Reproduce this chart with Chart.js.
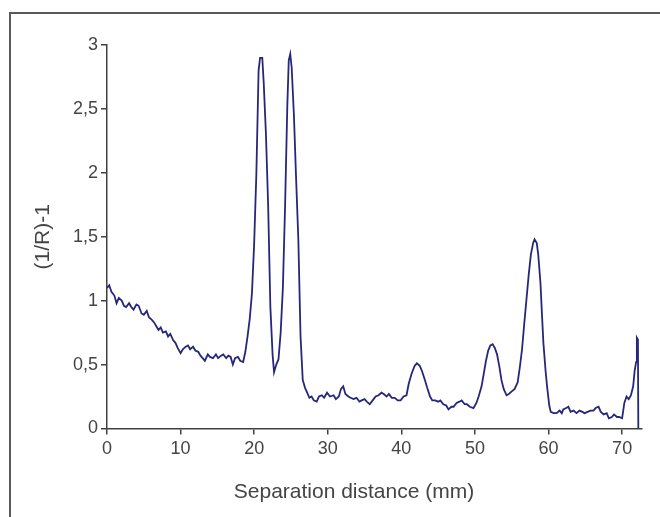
<!DOCTYPE html>
<html>
<head>
<meta charset="utf-8">
<script src="https://cdn.jsdelivr.net/npm/chart.js@4/dist/chart.umd.min.js"></script>
<style>
html, body { margin: 0; padding: 0; background: #fff; overflow: hidden; }
#wrap { position: relative; width: 660px; height: 517px; }
#frame { position: absolute; left: 9px; top: 12px; width: 700px; height: 600px; border: 2px solid #5a5a5a; box-sizing: border-box; }
#chart { position: absolute; left: 0; top: 0; }
</style>
</head>
<body>
<div id="wrap">
<div id="frame"></div>
<canvas id="chart" width="660" height="517"></canvas>
</div>
<script>
// separation distance (mm) and reflectance signal (1/R)-1
var distance = [
0,0.3,0.6,1.0,1.3,1.6,2.0,2.3,2.6,3.0,3.3,3.6,4.0,4.3,4.7,5.0,5.4,5.7,6.1,6.4,
6.7,7.0,7.3,7.6,8.0,8.3,8.6,9.0,9.3,9.6,10.0,10.3,10.7,11.0,11.3,11.7,12.0,12.4,12.7,13.0,
13.3,13.7,14.0,14.4,14.8,15.1,15.5,15.8,16.2,16.5,16.8,17.1,17.4,17.8,18.1,18.5,
18.8,19.1,19.4,19.7,20.0,20.3,20.6,20.8,21.1,21.3,21.6,21.9,22.2,22.5,22.7,23.0,23.3,23.6,23.9,
24.2,24.5,24.7,24.9,25.1,25.4,25.7,26.0,26.3,26.6,26.9,27.2,27.5,27.8,28.1,28.5,28.8,29.2,29.5,29.9,
30.3,30.8,31.1,31.5,31.8,32.1,32.4,32.8,33.1,33.5,33.9,34.3,34.6,35.0,35.3,35.7,36.1,36.5,36.9,37.3,
37.6,38.0,38.3,38.7,39.1,39.5,39.9,40.3,40.7,41.0,41.4,41.8,42.1,42.5,42.8,43.2,43.5,43.9,44.2,44.6,
45.0,45.3,45.7,46.1,46.4,46.8,47.1,47.5,47.9,48.2,48.6,48.9,49.3,49.8,50.2,50.5,50.9,51.2,51.5,51.8,
52.1,52.4,52.7,53.0,53.3,53.6,53.9,54.3,54.6,55.0,55.4,55.8,56.1,56.4,56.7,57.0,57.3,57.6,57.9,58.1,
58.4,58.6,58.9,59.1,59.3,59.6,59.8,60.1,60.3,60.7,61.1,61.5,61.8,62.0,62.4,62.7,63.0,63.4,63.8,64.2,
64.6,64.9,65.3,65.7,66.1,66.4,66.8,67.1,67.5,67.9,68.2,68.6,68.9,69.3,69.6,70.0,70.3,70.6,70.9,71.2,
71.5,71.7,71.9,72.0,72.1,72.15,72.2
];
var signal = [
1.10,1.12,1.07,1.04,0.98,1.02,1.00,0.96,0.95,0.98,0.95,0.93,0.97,0.96,0.90,0.89,0.92,0.87,0.85,0.83,
0.80,0.77,0.79,0.75,0.76,0.72,0.74,0.69,0.67,0.63,0.59,0.62,0.64,0.65,0.62,0.64,0.61,0.60,0.57,0.55,
0.53,0.58,0.56,0.55,0.58,0.55,0.57,0.58,0.55,0.57,0.56,0.50,0.55,0.56,0.53,0.52,
0.60,0.72,0.86,1.06,1.45,2.00,2.80,2.90,2.90,2.70,2.30,1.74,0.95,0.58,0.44,0.50,0.54,0.75,1.10,
1.74,2.52,2.88,2.93,2.82,2.45,1.95,1.48,0.72,0.38,0.32,0.28,0.24,0.25,0.22,0.21,0.25,0.26,0.24,0.28,
0.25,0.26,0.23,0.25,0.31,0.33,0.27,0.25,0.24,0.23,0.24,0.21,0.22,0.23,0.21,0.19,0.22,0.25,0.26,0.28,
0.27,0.25,0.27,0.24,0.24,0.22,0.22,0.25,0.26,0.35,0.43,0.49,0.51,0.49,0.45,0.38,0.32,0.25,0.22,0.22,
0.21,0.22,0.19,0.18,0.15,0.17,0.17,0.20,0.21,0.22,0.19,0.19,0.17,0.16,0.20,0.25,0.33,0.43,0.53,0.61,
0.65,0.66,0.63,0.58,0.49,0.38,0.31,0.26,0.27,0.29,0.31,0.36,0.48,0.62,0.82,1.01,1.20,1.36,1.45,1.48,
1.45,1.36,1.14,0.90,0.67,0.45,0.33,0.18,0.13,0.12,0.12,0.14,0.12,0.15,0.16,0.17,0.13,0.14,0.12,0.14,
0.13,0.12,0.13,0.14,0.14,0.16,0.17,0.13,0.11,0.12,0.08,0.09,0.11,0.09,0.09,0.08,0.20,0.25,0.23,0.26,
0.33,0.45,0.52,0.71,0.70,0.66,0.0
];
var xTicks = [0,10,20,30,40,50,60,70];
var yTicks = [0,0.5,1,1.5,2,2.5,3];
var yTickLabels = ['0','0,5','1','1,5','2','2,5','3'];
var xTitle = 'Separation distance (mm)';
var yTitle = '(1/R)-1';

var points = distance.map(function(d, i) { return {x: d, y: signal[i]}; });

var axisColor = '#404040';
var textColor = '#444444';
var fontFamily = '"Liberation Sans", Arial, sans-serif';

// x title sits a bit left of the plot centre in the original
var xTitlePlugin = {
  id: 'xTitle',
  afterDraw: function(chart) {
    var ctx = chart.ctx;
    ctx.save();
    ctx.font = '21px ' + fontFamily;
    ctx.fillStyle = textColor;
    ctx.textAlign = 'center';
    ctx.textBaseline = 'middle';
    ctx.fillText(xTitle, 354, 492);
    ctx.restore();
  }
};

var chart = new Chart(document.getElementById('chart').getContext('2d'), {
  type: 'line',
  data: {
    datasets: [{
      data: points,
      borderColor: '#26267a',
      borderWidth: 1.8,
      pointRadius: 0,
      tension: 0,
      fill: false
    }]
  },
  options: {
    responsive: false,
    animation: false,
    devicePixelRatio: 1,
    layout: { padding: { left: 0, top: 45, right: 18, bottom: 8.5 } },
    plugins: { legend: { display: false }, tooltip: { enabled: false } },
    scales: {
      x: {
        type: 'linear',
        min: 0,
        max: 72.7,
        afterBuildTicks: function(scale) {
          scale.ticks = xTicks.map(function(v) { return {value: v}; });
        },
        afterFit: function(scale) { scale.height = 80; },
        grid: { drawOnChartArea: false, drawTicks: true, tickLength: 6, color: axisColor, lineWidth: 1.5 },
        border: { color: axisColor, width: 1.5 },
        ticks: { color: textColor, font: { size: 18, family: fontFamily }, padding: 4, maxRotation: 0 },
        title: { display: false }
      },
      y: {
        min: 0,
        max: 3,
        afterBuildTicks: function(scale) {
          scale.ticks = yTicks.map(function(v) { return {value: v}; });
        },
        afterFit: function(scale) { scale.width = 107; },
        grid: { drawOnChartArea: false, drawTicks: true, tickLength: 6, color: axisColor, lineWidth: 1.5 },
        border: { color: axisColor, width: 1.5 },
        ticks: {
          color: textColor,
          font: { size: 18, family: fontFamily },
          padding: 3,
          callback: function(value) {
            var i = yTicks.indexOf(value);
            return i >= 0 ? yTickLabels[i] : '';
          }
        },
        title: {
          display: true,
          text: yTitle,
          color: textColor,
          font: { size: 21, family: fontFamily },
          padding: { top: 31, bottom: 0 }
        }
      }
    }
  },
  plugins: [xTitlePlugin]
});
</script>
</body>
</html>
